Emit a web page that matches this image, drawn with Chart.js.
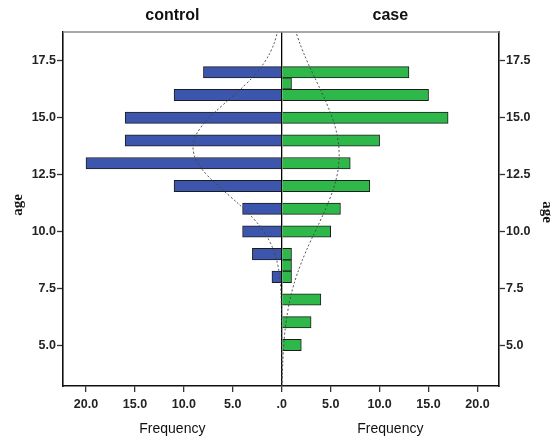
<!DOCTYPE html>
<html>
<head>
<meta charset="utf-8">
<script src="https://cdn.jsdelivr.net/npm/chart.js@4/dist/chart.umd.min.js"></script>
<style>
  html, body { margin: 0; padding: 0; background: #fff; }
  #wrap { width: 552px; height: 439px; }
</style>
</head>
<body>
<div id="wrap"><canvas id="chart" width="552" height="439"></canvas></div>
<script>
const ageBins = [17, 16.5, 16, 15, 14, 13, 12, 11, 10, 9, 8.5, 8, 7, 6, 5];
const controlFreq = [8, 0, 11, 16, 16, 20, 11, 4, 4, 3, 0, 1, 0, 0, 0];
const caseFreq = [13, 1, 15, 17, 10, 7, 9, 6, 5, 1, 1, 1, 4, 3, 2];

// dotted normal curves, estimated every half year
const curveAges = [3, 3.5, 4, 4.5, 5, 5.5, 6, 6.5, 7, 7.5, 8, 8.5, 9, 9.5, 10, 10.5, 11,
  11.5, 12, 12.5, 13, 13.5, 14, 14.5, 15, 15.5, 16, 16.5, 17, 17.5, 18, 18.5, 19];
const controlCurve = [0, 0, 0, 0, 0, 0, 0.01, 0.02, 0.05, 0.10, 0.21, 0.39, 0.70, 1.17, 1.85, 2.76, 3.89,
  5.18, 6.49, 7.68, 8.57, 9.02, 8.96, 8.39, 7.41, 6.18, 4.86, 3.61, 2.52, 1.67, 1.04, 0.61, 0.34];
const caseCurve = [0.03, 0.05, 0.09, 0.14, 0.21, 0.30, 0.44, 0.62, 0.84, 1.13, 1.48, 1.89, 2.36, 2.87, 3.42, 3.97, 4.49,
  4.97, 5.37, 5.67, 5.83, 5.86, 5.76, 5.52, 5.16, 4.71, 4.20, 3.66, 3.11, 2.58, 2.09, 1.66, 1.28];

const freqTicks = [-20, -15, -10, -5, 0, 5, 10, 15, 20];
const ageTicks = [5, 7.5, 10, 12.5, 15, 17.5];
const groupLabels = ['control', 'case'];
const freqTitle = 'Frequency';
const ageTitle = 'age';

const tickFont = { family: '"Liberation Sans", Arial, sans-serif', size: 12.5, weight: 'bold' };

// 文字都畫在 canvas 上（標題、座標軸名稱）
const extraText = {
  id: 'extraText',
  afterDraw(chart) {
    const { ctx, chartArea: a, scales } = chart;
    const mid = scales.x.getPixelForValue(0);
    ctx.save();
    // top border (gray)
    ctx.strokeStyle = '#8a8a8a';
    ctx.lineWidth = 1.6;
    ctx.beginPath();
    ctx.moveTo(a.left, a.top);
    ctx.lineTo(a.right, a.top);
    ctx.stroke();

    ctx.fillStyle = '#111';
    ctx.textAlign = 'center';
    ctx.textBaseline = 'middle';
    ctx.font = 'bold 16px "Liberation Sans", Arial, sans-serif';
    ctx.fillText(groupLabels[0], (a.left + mid) / 2, 16);
    ctx.fillText(groupLabels[1], (mid + a.right) / 2, 16);

    ctx.font = '14px "Liberation Sans", Arial, sans-serif';
    ctx.fillText(freqTitle, (a.left + mid) / 2, 429);
    ctx.fillText(freqTitle, (mid + a.right) / 2, 429);

    ctx.font = 'bold 15px "Liberation Serif", "DejaVu Serif", serif';
    ctx.save();
    ctx.translate(18, 205);
    ctx.rotate(-Math.PI / 2);
    ctx.fillText(ageTitle, 0, 0);
    ctx.restore();
    ctx.save();
    ctx.translate(547, 212);
    ctx.rotate(Math.PI / 2);
    ctx.fillText(ageTitle, 0, 0);
    ctx.restore();
    ctx.restore();
  }
};

const yAxis = (pos, w) => ({
  type: 'linear',
  position: pos,
  min: 3.2,
  max: 18.77,
  offset: false,
  afterBuildTicks: s => { s.ticks = ageTicks.map(v => ({ value: v })); },
  afterFit: s => { s.width = w; },
  ticks: { font: tickFont, color: '#222', padding: 1, callback: v => Number(v).toFixed(1) },
  grid: { offset: false, drawOnChartArea: false, tickLength: 6, tickColor: '#333', tickWidth: 1.3 },
  border: { display: true, color: '#111', width: 1.6 }
});

const curveStyle = {
  type: 'line',
  borderColor: '#444',
  borderWidth: 0.9,
  borderDash: [2, 2],
  pointRadius: 0,
  tension: 0.4,
  fill: false
};

new Chart(document.getElementById('chart'), {
  type: 'bar',
  data: {
    datasets: [
      {
        label: groupLabels[0],
        data: ageBins.map((a, i) => ({ y: a, x: -controlFreq[i] })),
        backgroundColor: '#3d56ad',
        borderColor: '#1c1c1c',
        borderWidth: 1,
        grouped: false,
        barPercentage: 1,
        categoryPercentage: 1,
        order: 2
      },
      {
        label: groupLabels[1],
        data: ageBins.map((a, i) => ({ y: a, x: caseFreq[i] })),
        backgroundColor: '#2fb84a',
        borderColor: '#1c1c1c',
        borderWidth: 1,
        grouped: false,
        barPercentage: 1,
        categoryPercentage: 1,
        order: 2
      },
      { ...curveStyle, label: 'control normal', data: curveAges.map((a, i) => ({ y: a, x: -controlCurve[i] })), order: 1 },
      { ...curveStyle, label: 'case normal', data: curveAges.map((a, i) => ({ y: a, x: caseCurve[i] })), order: 1 }
    ]
  },
  options: {
    indexAxis: 'y',
    responsive: false,
    animation: false,
    layout: { padding: { top: 32, left: 0, right: 0, bottom: 0 } },
    plugins: { legend: { display: false }, tooltip: { enabled: false } },
    scales: {
      x: {
        type: 'linear',
        min: -22.35,
        max: 22.2,
        afterBuildTicks: s => { s.ticks = freqTicks.map(v => ({ value: v })); },
        afterFit: s => { s.height = 53; },
        ticks: {
          font: tickFont, color: '#222', padding: 5,
          callback: v => (v === 0 ? '.0' : Math.abs(v).toFixed(1))
        },
        grid: {
          drawOnChartArea: true,
          color: c => (c.tick && c.tick.value === 0 ? '#000' : 'rgba(0,0,0,0)'),
          lineWidth: 1.3,
          tickLength: 6,
          tickColor: '#333',
          tickWidth: 1.3
        },
        border: { display: true, color: '#111', width: 1.6 }
      },
      y: yAxis('left', 63),
      y2: yAxis('right', 53)
    }
  },
  plugins: [extraText]
});
</script>
</body>
</html>
